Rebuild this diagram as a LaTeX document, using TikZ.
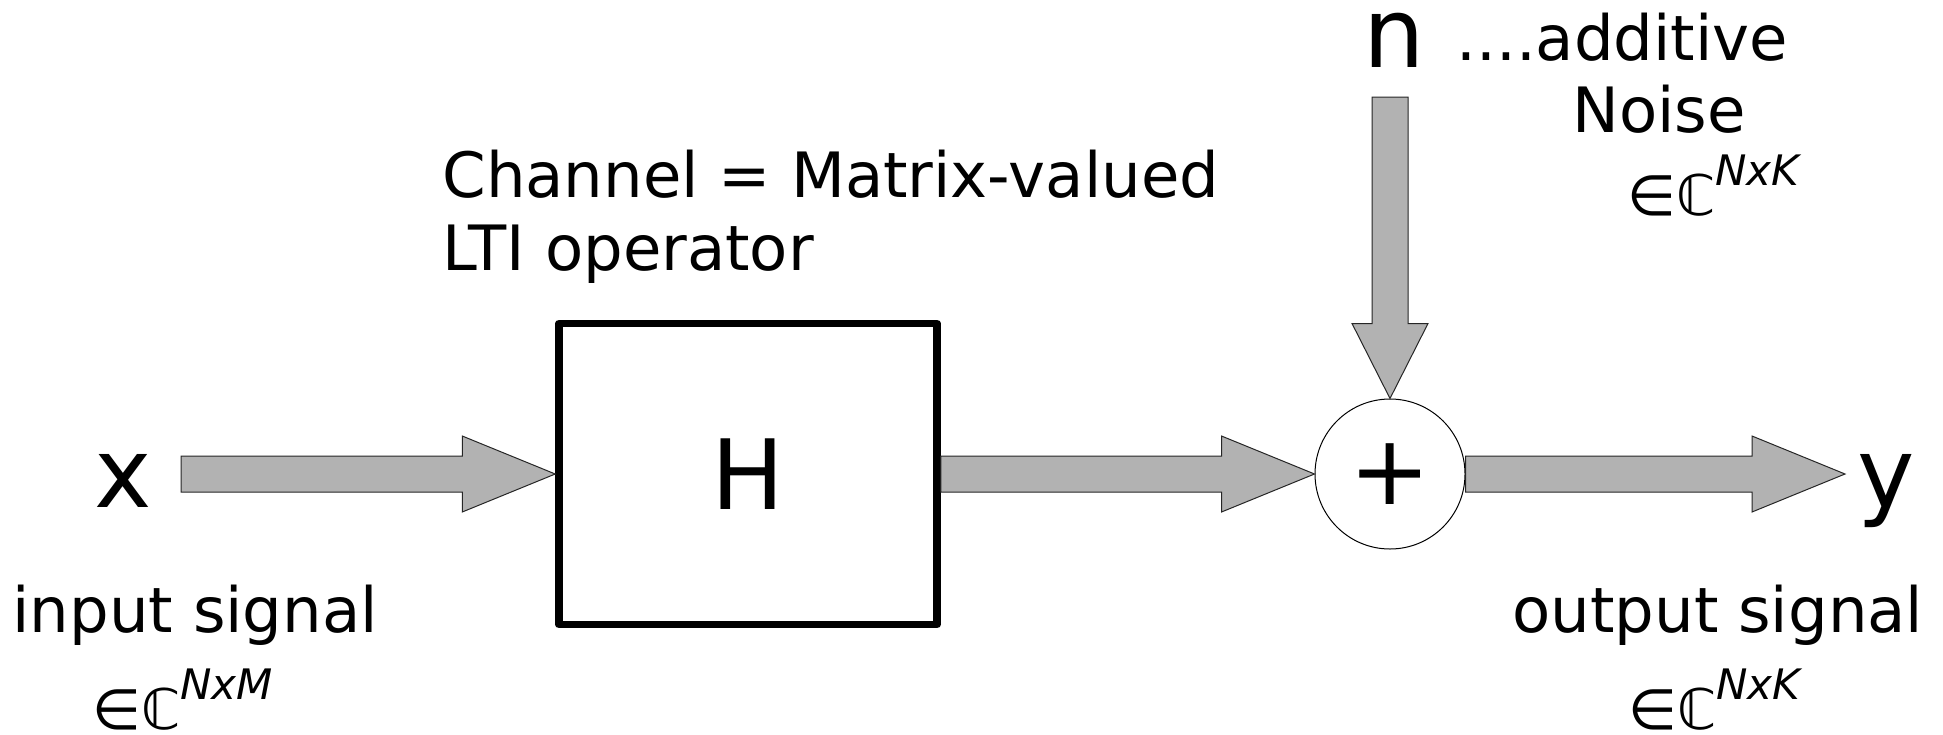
\documentclass[tikz,border=0pt]{standalone}
\usepackage{fontspec}
\setmainfont{DejaVu Sans}
\usetikzlibrary{calc}

\tikzset{
  signal/.style={font=\fontsize{48.5}{58}\selectfont, inner sep=0pt},
  txt/.style={font=\fontsize{31.25}{36.5}\selectfont, inner sep=0pt, anchor=base west},
  block/.style={draw, line width=3.75pt, line join=round, minimum width=189pt,
    minimum height=150.5pt, inner sep=0pt},
  adder/.style={draw, circle, line width=0.5pt, minimum size=75pt, inner sep=0pt},
  fatarrow/.style={fill=black!30, draw=black!85, line width=0.5pt, line join=miter}
}

% element of C^{...}
\newcommand\dimof[1]{{\fontsize{28}{33}\selectfont ∈ℂ}\raisebox{15pt}{\fontsize{21}{25}\selectfont\itshape #1}}

% broad gray arrow from #2 to #3, #1 = head length
\newcommand\fatarrow[3][46.5pt]{%
  \coordinate (fa-neck) at ($(#3)!#1!(#2)$);
  \filldraw[fatarrow]
    ($(#2)!9pt!90:(#3)$) -- ($(fa-neck)!9pt!-90:(#2)$) -- ($(fa-neck)!19pt!-90:(#2)$)
    -- (#3) -- ($(fa-neck)!19pt!90:(#2)$) -- ($(fa-neck)!9pt!90:(#2)$)
    -- ($(#2)!9pt!-90:(#3)$) -- cycle;
}

\begin{document}
\begin{tikzpicture}[x=0.5pt,y=-0.5pt]
  \useasboundingbox (0,0) rectangle (1943,734);

  % signals
  \node[signal,anchor=base] (xin) at (123,507) {x};
  \node[signal,anchor=base] (yout) at (1886,507) {y};
  \node[signal,anchor=base] (noise) at (1394,67) {n};

  % channel and summation
  \node[block,signal] (chan) at (748,474) {H};
  \node[adder,signal] (sum) at (1390,474) {+};

  \coordinate (xin-end) at (181,474);
  \coordinate (yout-end) at (1845,474);
  \coordinate (noise-end) at (1390,97);

  \fatarrow{xin-end}{chan.west}
  \fatarrow{chan.east}{sum.west}
  \fatarrow{sum.east}{yout-end}
  \fatarrow[37.5pt]{noise-end}{sum.north}

  % labels
  \node[txt] (inlbl) at (12,632) {input signal};
  \node[txt] (indim) at (92,729) {\dimof{NxM}};
  \node[txt,align=left] (chanlbl) at (442,270) {Channel = Matrix-valued\\LTI operator};
  \node[txt] (addlbl) at (1456,60) {....additive};
  \node[txt] (noiselbl) at (1572,132) {Noise};
  \node[txt] (noisedim) at (1627,215) {\dimof{NxK}};
  \node[txt] (outlbl) at (1512,632) {output signal};
  \node[txt] (outdim) at (1628,729) {\dimof{NxK}};
\end{tikzpicture}
\end{document}
